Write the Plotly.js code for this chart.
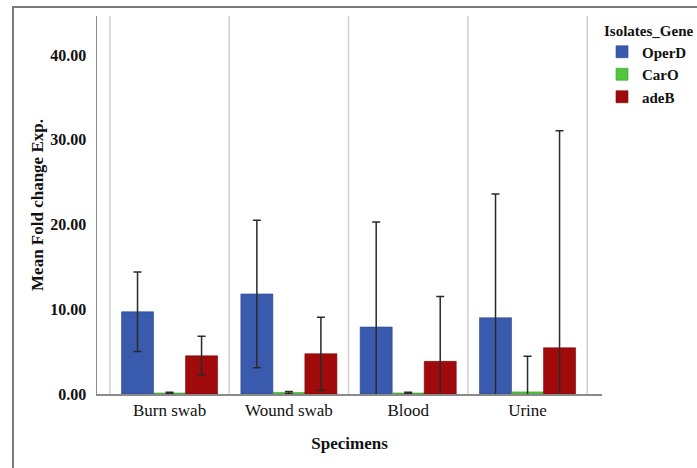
<!DOCTYPE html>
<html>
<head>
<meta charset="utf-8">
<script src="https://cdn.plot.ly/plotly-3.0.1.min.js"></script>
<style>
  html, body { margin: 0; padding: 0; background: #fff; }
  #wrap { position: relative; width: 697px; height: 468px; overflow: hidden; }
  #chart { position: absolute; left: 0; top: 0; width: 697px; height: 468px; }
  #frame { position: absolute; left: 12px; top: 6px; width: 700px; height: 470px;
           border-left: 2px solid #7a7a7a; border-top: 2px solid #7a7a7a; pointer-events: none; }
</style>
</head>
<body>
<div id="wrap">
  <div id="chart"></div>
  <div id="frame"></div>
</div>
<script>
// ---- data ----
const specimens = ['Burn swab', 'Wound swab', 'Blood', 'Urine'];
const geneNames = ['OperD', 'CarO', 'adeB'];
const operD    = [9.7, 11.8, 7.9, 9.0];
const operDErr = [4.7, 8.7, 12.4, 14.6];
const carO     = [0.12, 0.18, 0.12, 0.25];
const carOErr  = [0.1, 0.12, 0.08, 4.2];
const adeB     = [4.5, 4.75, 3.85, 5.45];
const adeBErr  = [2.3, 4.3, 7.65, 25.6];
const yTicks   = [0, 10, 20, 30, 40];

const colors = ['#3a5aae', '#52c63e', '#a00a0a'];
const lineColors = ['#2c4688', '#3ea02e', '#7a0606'];
const values = [operD, carO, adeB];
const errs = [operDErr, carOErr, adeBErr];

const serif = '"Liberation Serif", "Times New Roman", serif';

const traces = geneNames.map((name, i) => ({
  type: 'bar',
  name: '<b>' + name + '</b>',
  x: specimens,
  y: values[i],
  marker: {
    color: colors[i],
    line: { color: lineColors[i], width: 0.6 }
  },
  error_y: {
    type: 'data',
    array: errs[i],
    visible: true,
    color: '#2a2a2a',
    thickness: 1.5,
    width: 4
  },
  cliponaxis: true
}));

// vertical separators between the specimen groups
const shapes = [];
for (let k = 0; k <= specimens.length; k++) {
  shapes.push({
    type: 'line', xref: 'x', yref: 'paper',
    x0: k - 0.5, x1: k - 0.5, y0: 0, y1: 1,
    line: { color: '#cfcfcf', width: 1.5 },
    layer: 'below'
  });
}

const layout = {
  width: 697,
  height: 468,
  margin: { l: 97, r: 95, t: 16, b: 74, autoexpand: false },
  paper_bgcolor: '#ffffff',
  plot_bgcolor: '#ffffff',
  font: { family: serif, color: '#111' },
  barmode: 'group',
  bargap: 0.195,
  bargroupgap: 0,
  showlegend: true,
  xaxis: {
    type: 'category',
    range: [-0.608, 3.624],
    showgrid: false,
    zeroline: false,
    showline: true,
    linecolor: '#8a8a8a',
    linewidth: 1.5,
    ticks: '',
    automargin: false,
    tickfont: { family: serif, size: 17, color: '#111' },
    title: { text: '<b>Specimens</b>', font: { family: serif, size: 17, color: '#111' }, standoff: 18 }
  },
  yaxis: {
    range: [0, 44.6],
    tickvals: yTicks,
    ticktext: yTicks.map(v => '<b>' + v.toFixed(2) + '</b>'),
    showgrid: false,
    zeroline: false,
    showline: true,
    linecolor: '#8a8a8a',
    linewidth: 1.5,
    ticks: '',
    automargin: false,
    ticklabelstandoff: 6,
    tickfont: { family: serif, size: 16, color: '#111' },
    title: { text: '<b>Mean Fold change Exp.</b>', font: { family: serif, size: 17, color: '#111' }, standoff: 2 }
  },
  legend: {
    x: 1.0,
    xanchor: 'left',
    y: 1.0,
    yanchor: 'top',
    bgcolor: 'rgba(0,0,0,0)',
    font: { family: serif, size: 15, color: '#111' },
    title: { text: '<b>Isolates_Gene</b>', font: { family: serif, size: 15, color: '#111' } },
    itemwidth: 30,
    tracegroupgap: 0
  },
  shapes: shapes
};

Plotly.newPlot('chart', traces, layout, { displayModeBar: false, staticPlot: true });
</script>
</body>
</html>
